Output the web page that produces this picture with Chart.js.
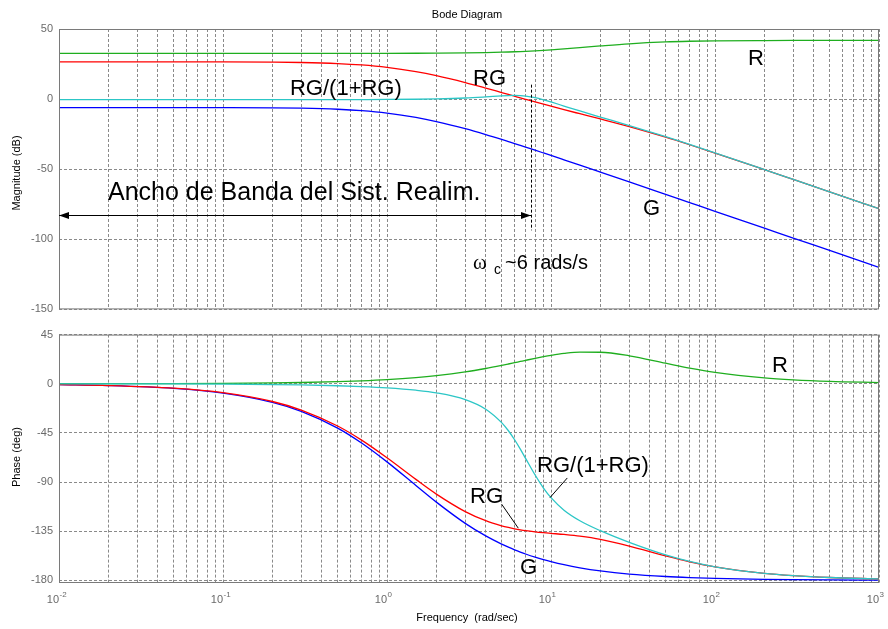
<!DOCTYPE html>
<html>
<head>
<meta charset="utf-8">
<title>Bode Diagram</title>
<script src="https://cdn.jsdelivr.net/npm/chart.js@4.4.1/dist/chart.umd.min.js"></script>
<style>
  html, body { margin: 0; padding: 0; background: #ffffff; }
  #page { position: relative; width: 888px; height: 629px; overflow: hidden; }
  #page canvas { position: absolute; left: 0; }
</style>
</head>
<body>
<div id="page">
  <canvas id="mag" width="888" height="322" style="top:0"></canvas>
  <canvas id="phase" width="888" height="307" style="top:322px"></canvas>
</div>
<script>
// Frequency samples (rad/s)
const freq = [0.01, 0.02, 0.05, 0.1, 0.2, 0.3, 0.5, 0.7, 1, 1.5, 2, 3, 4, 5, 5.5, 6, 6.5, 7, 8, 9,
              10, 12, 15, 20, 30, 50, 70, 100, 200, 300, 500, 1000];

// Magnitude (dB)
const magG  = [-6.02, -6.02, -6.03, -6.08, -6.23, -6.49, -7.25, -8.25, -10.0, -13.08, -16.02, -21.14, -25.31, -28.77, -30.30, -31.70, -33.01, -34.23, -36.45, -38.43,
               -40.21, -43.32, -47.14, -52.10, -59.11, -67.97, -73.81, -80.0, -92.04, -99.09, -107.96, -120.0];
const magR  = [32.61, 32.61, 32.61, 32.61, 32.61, 32.61, 32.62, 32.62, 32.64, 32.69, 32.76, 32.93, 33.17, 33.45, 33.60, 33.76, 33.92, 34.09, 34.44, 34.78,
               35.13, 35.79, 36.70, 37.91, 39.45, 40.77, 41.25, 41.55, 41.77, 41.82, 41.84, 41.85];
const magRG = [26.59, 26.58, 26.57, 26.53, 26.37, 26.12, 25.36, 24.37, 22.64, 19.61, 16.74, 11.80, 7.86, 4.67, 3.31, 2.06, 0.91, -0.14, -2.02, -3.65,
               -5.09, -7.52, -10.44, -14.19, -19.66, -27.20, -32.56, -38.46, -50.27, -57.27, -66.12, -78.15];
const magCL = [-0.40, -0.40, -0.40, -0.40, -0.39, -0.39, -0.36, -0.33, -0.26, -0.09, 0.15, 0.80, 1.59, 2.30, 2.53, 2.60, 2.48, 2.16, 1.03, -0.47,
               -2.04, -4.94, -8.46, -12.81, -18.87, -26.85, -32.36, -38.35, -50.24, -57.26, -66.11, -78.15];

// Phase (deg)
const phG  = [-0.86, -1.72, -4.29, -8.57, -17.02, -25.23, -40.60, -54.28, -71.57, -93.18, -108.43, -127.87, -139.40, -146.89, -149.71, -152.10, -154.15, -155.93, -158.84, -161.13,
              -162.98, -165.77, -168.59, -171.43, -174.28, -176.56, -177.55, -178.28, -179.14, -179.43, -179.66, -179.83];
const phR  = [0.04, 0.08, 0.19, 0.38, 0.75, 1.13, 1.87, 2.62, 3.74, 5.57, 7.37, 10.79, 13.95, 16.78, 18.07, 19.28, 20.39, 21.42, 23.24, 24.75,
              25.97, 27.72, 28.96, 28.84, 25.60, 18.81, 14.37, 10.46, 5.39, 3.61, 2.17, 1.09];
const phRG = [-0.82, -1.64, -4.11, -8.20, -16.27, -24.11, -38.73, -51.66, -67.83, -87.61, -101.07, -117.08, -125.45, -130.11, -131.64, -132.83, -133.76, -134.51, -135.60, -136.39,
              -137.01, -138.06, -139.63, -142.58, -148.68, -157.76, -163.17, -167.82, -173.76, -175.82, -177.48, -178.74];
const phCL = [-0.04, -0.07, -0.18, -0.37, -0.74, -1.10, -1.85, -2.62, -3.80, -5.94, -8.36, -14.53, -23.30, -35.63, -43.07, -51.32, -59.87, -68.37, -83.62, -95.55,
              -104.37, -115.81, -125.47, -134.59, -145.29, -156.77, -162.77, -167.68, -173.73, -175.81, -177.48, -178.74];

// Axis ticks
const magTicks   = [50, 0, -50, -100, -150];
const phaseTicks = [45, 0, -45, -90, -135, -180];
const decadeExp  = [-2, -1, 0, 1, 2, 3];

// Log grid: 1..9 x each decade, plus the last decade line
const gridFreq = [];
decadeExp.forEach(e => {
  if (e === 3) { gridFreq.push(1000); return; }
  for (let m = 1; m <= 9; m++) gridFreq.push(+(m * Math.pow(10, e)).toPrecision(3));
});

const FONT  = 'Arial, "Liberation Sans", Helvetica, sans-serif';
const SERIF = '"Liberation Serif", "DejaVu Serif", "Times New Roman", serif';
const GRID  = '#8a8a8a';
const BOX   = '#7a7a7a';
const TICK  = '#6a6a6a';
const COL = { G: '#0000ff', R: '#1fae1f', RG: '#ff0000', CL: '#2cc6c6' };

Chart.defaults.font.family = FONT;

function series(label, ys, color) {
  return {
    label,
    data: freq.map((f, i) => ({ x: f, y: ys[i] })),
    borderColor: color,
    backgroundColor: color,
    borderWidth: 1.3,
    pointRadius: 0,
    fill: false,
    cubicInterpolationMode: 'monotone'
  };
}

function xScale(height) {
  return {
    type: 'logarithmic', min: 0.01, max: 1000,
    afterBuildTicks: s => { s.ticks = gridFreq.map(v => ({ value: v })); },
    ticks: { display: false },
    grid: { color: GRID, lineWidth: 1, drawTicks: false },
    border: { display: false, dash: [3, 2] },
    afterFit: s => { s.height = height; }
  };
}

function yScale(min, max, ticks) {
  return {
    type: 'linear', min, max,
    afterBuildTicks: s => { s.ticks = ticks.map(v => ({ value: v })); },
    ticks: { color: TICK, font: { size: 11, family: FONT }, padding: 6, autoSkip: false },
    grid: { color: GRID, lineWidth: 1, drawTicks: false },
    border: { display: false, dash: [3, 2] },
    afterFit: s => { s.width = 59; }
  };
}

// Axes box drawn above the curves
const frame = {
  id: 'frame',
  afterDatasetsDraw(chart) {
    const { ctx, chartArea: a } = chart;
    ctx.save();
    ctx.strokeStyle = BOX;
    ctx.lineWidth = 1;
    ctx.strokeRect(a.left + 0.5, a.top + 0.5, a.right - a.left - 1, a.bottom - a.top - 1);
    ctx.restore();
  }
};

function text(ctx, str, x, y, size, opts = {}) {
  ctx.save();
  ctx.font = (opts.weight || '') + ' ' + size + 'px ' + (opts.family || FONT);
  ctx.fillStyle = opts.color || '#000';
  ctx.textAlign = opts.align || 'left';
  ctx.textBaseline = opts.baseline || 'alphabetic';
  if (opts.rotate) {
    ctx.translate(x, y);
    ctx.rotate(opts.rotate);
    ctx.fillText(str, 0, 0);
  } else {
    ctx.fillText(str, x, y);
  }
  ctx.restore();
}

function arrowHead(ctx, x, y, dir) {
  ctx.beginPath();
  ctx.moveTo(x, y);
  ctx.lineTo(x - dir * 10, y - 3.5);
  ctx.lineTo(x - dir * 10, y + 3.5);
  ctx.closePath();
  ctx.fill();
}

function line(ctx, x1, y1, x2, y2, dash) {
  ctx.save();
  ctx.strokeStyle = '#000';
  ctx.lineWidth = 1;
  if (dash) ctx.setLineDash(dash);
  ctx.beginPath();
  ctx.moveTo(x1, y1);
  ctx.lineTo(x2, y2);
  ctx.stroke();
  ctx.restore();
}

// Titles and notes on the magnitude plot
const magNotes = {
  id: 'magNotes',
  afterDraw(chart) {
    const { ctx, scales: { x, y } } = chart;
    const px = f => x.getPixelForValue(f);
    const py = v => y.getPixelForValue(v);
    text(ctx, 'Bode Diagram', 467, 15, 11, { align: 'center', baseline: 'middle' });
    text(ctx, 'Magnitude (dB)', 17, 173, 11, { align: 'center', baseline: 'middle', rotate: -Math.PI / 2 });

    text(ctx, 'R', px(159), py(24.2), 22);
    text(ctx, 'RG', px(3.35), py(10.3), 22);
    text(ctx, 'RG/(1+RG)', px(0.256), py(2.6), 22);
    text(ctx, 'G', px(36.4), py(-82.4), 22);
    text(ctx, 'Ancho de Banda del Sist. Realim.', px(0.0199), py(-72.0), 25);

    // bandwidth arrow and crossover marker
    const ya = Math.round(py(-82.75)) + 0.5;
    const xa0 = px(0.01), xa1 = px(7.55);
    line(ctx, xa0, ya, xa1, ya);
    ctx.save();
    ctx.fillStyle = '#000';
    arrowHead(ctx, xa0, ya, -1);
    arrowHead(ctx, xa1, ya, 1);
    ctx.restore();
    const xc = Math.round(px(7.5)) + 0.5;
    line(ctx, xc, py(10.3), xc, py(-93.6), [3, 2]);

    const x0 = px(3.35), yb = py(-121.4);
    text(ctx, '\u03c9', x0, yb, 21, { family: SERIF });
    text(ctx, 'c', x0 + 21, yb + 5, 14);
    text(ctx, '~6 rads/s', x0 + 32, yb, 20);
  }
};

// Axis labels and notes on the phase plot
const phaseNotes = {
  id: 'phaseNotes',
  afterDraw(chart) {
    const { ctx, scales: { x, y } } = chart;
    const px = f => x.getPixelForValue(f);
    const py = v => y.getPixelForValue(v);
    text(ctx, 'Phase (deg)', 17, 135, 11, { align: 'center', baseline: 'middle', rotate: -Math.PI / 2 });

    decadeExp.forEach(e => {
      const xp = px(Math.pow(10, e));
      text(ctx, '10', xp, 280.5, 11, { align: 'right', color: TICK });
      text(ctx, String(e), xp + 0.5, 275, 8, { color: TICK });
    });
    text(ctx, 'Frequency  (rad/sec)', 467, 299, 11, { align: 'center' });

    text(ctx, 'R', px(222.6), py(10.8), 22);
    text(ctx, 'RG/(1+RG)', px(8.22), py(-80.4), 22);
    line(ctx, px(12.57), py(-86.3), px(9.86), py(-104.3));
    text(ctx, 'RG', px(3.21), py(-109.4), 22);
    line(ctx, px(5.0), py(-110.3), px(6.32), py(-132.3));
    text(ctx, 'G', px(6.47), py(-174.4), 22);
  }
};

function makeChart(id, sets, yOpts, xHeight, padTop, plugin) {
  return new Chart(document.getElementById(id), {
    type: 'line',
    data: { datasets: sets },
    options: {
      responsive: false,
      animation: false,
      devicePixelRatio: 1,
      parsing: true,
      layout: { padding: { left: 0, top: padTop, right: 9, bottom: 0 } },
      plugins: { legend: { display: false }, title: { display: false }, tooltip: { enabled: false } },
      scales: { x: xScale(xHeight), y: yOpts }
    },
    plugins: [frame, plugin]
  });
}

makeChart('mag', [
  series('RG/(1+RG)', magCL, COL.CL),
  series('RG', magRG, COL.RG),
  series('R', magR, COL.R),
  series('G', magG, COL.G)
], yScale(-150, 50, magTicks), 6, 29, magNotes);

makeChart('phase', [
  series('RG/(1+RG)', phCL, COL.CL),
  series('RG', phRG, COL.RG),
  series('R', phR, COL.R),
  series('G', phG, COL.G)
], yScale(-182.5, 45, phaseTicks), 46, 8, phaseNotes);
</script>
</body>
</html>
